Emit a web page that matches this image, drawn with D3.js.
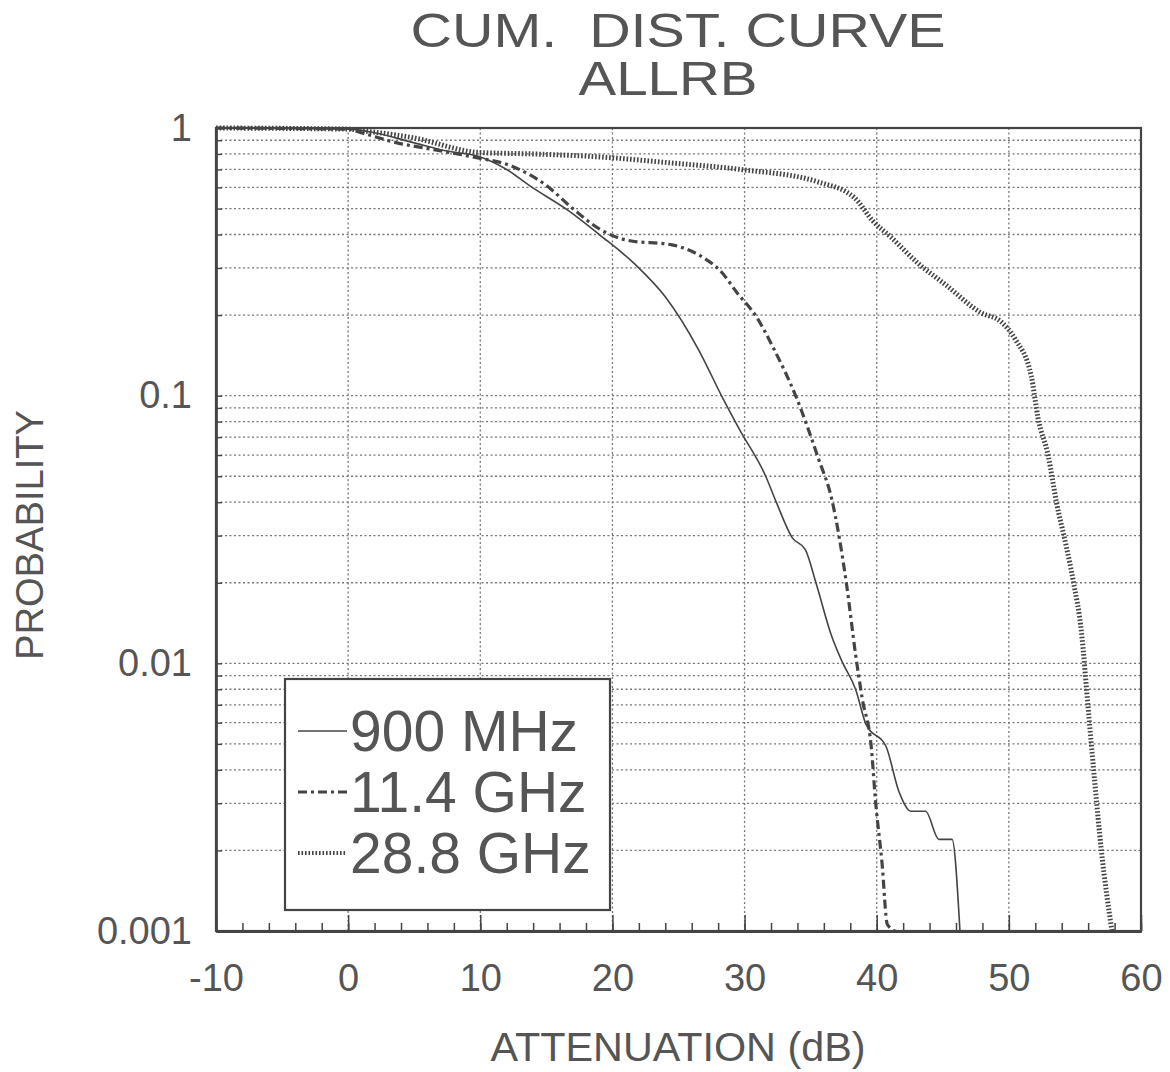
<!DOCTYPE html>
<html>
<head>
<meta charset="utf-8">
<script src="https://cdn.jsdelivr.net/npm/d3@7"></script>
<style>
  body { margin: 0; background: white; }
  text { font-family: "Liberation Sans", Arial, sans-serif; fill: #555; white-space: pre; }
</style>
</head>
<body>
<div id="chart"></div>
<script>
// values
var xTicks = [-10, 0, 10, 20, 30, 40, 50, 60]
var yTicks = [1, 0.1, 0.01, 0.001]
var yTickLabels = ["1", "0.1", "0.01", "0.001"]
var seriesNames = ["900 MHz", "11.4 GHz", "28.8 GHz"]

var x900 = [-10, 0, 2, 5, 7.5, 10, 12, 13.7, 16.7, 19, 21.7, 24, 26.5, 28.3, 29.6, 31.6, 32.4, 33.6, 34.6, 35.4, 36.6, 37.4, 38.4, 39.2, 40.7, 41.7, 42.6, 43.7, 44.7, 45.7, 46.3]
var y900 = [1, 0.99, 0.96, 0.88, 0.82, 0.78, 0.70, 0.61, 0.49, 0.40, 0.31, 0.234, 0.149, 0.099, 0.075, 0.05, 0.040, 0.0295, 0.0266, 0.020, 0.0126, 0.0101, 0.0080, 0.0059, 0.0049, 0.0033, 0.0028, 0.0028, 0.0022, 0.0022, 0.001]

var x114 = [-10, 0, 1, 3.7, 6.5, 9.4, 12.4, 15, 17, 19, 21.2, 24.5, 27.2, 28.1, 29.5, 30.9, 32.2, 33.9, 35.6, 36.6, 37.7, 38.4, 38.9, 39.6, 39.9, 40.4, 40.8, 41.4]
var y114 = [1, 0.99, 0.96, 0.88, 0.83, 0.78, 0.72, 0.61, 0.50, 0.42, 0.38, 0.366, 0.32, 0.295, 0.24, 0.197, 0.15, 0.099, 0.058, 0.041, 0.020, 0.0108, 0.0074, 0.0048, 0.0031, 0.0018, 0.00106, 0.001]

var x288 = [-10, 0, 1.6, 4.9, 9.9, 14, 19, 24.5, 29.7, 35.5, 38.3, 39.7, 41.1, 43.2, 45.2, 47.9, 49.4, 50.5, 51.7, 52.2, 53.0, 53.6, 54.3, 54.9, 55.5, 56.0, 56.5, 57.0, 57.8]
var y288 = [1, 0.99, 0.97, 0.92, 0.81, 0.80, 0.78, 0.74, 0.70, 0.63, 0.55, 0.45, 0.39, 0.31, 0.26, 0.204, 0.189, 0.162, 0.118, 0.083, 0.059, 0.040, 0.028, 0.020, 0.013, 0.0068, 0.0036, 0.0020, 0.001]

class frontend {
  constructor(parent){
    this.parent = parent
    this.width = 1170
    this.height = 1072
    this.left = 216
    this.right = 1141
    this.top = 128
    this.bottom = 931
    this.styles = [
      {w: 1.6, dash: null},
      {w: 3.2, dash: "9,4,3,4"},
      {w: 5, dash: "1.6,1.9"}
    ]
    this.draw()
  }
draw(){
  this.svg = this.parent.append("svg")
                  .attr("width", this.width)
                  .attr("height", this.height)
  this.x = d3.scaleLinear().domain([-10, 60]).range([this.left, this.right])
  this.y = d3.scaleLog().domain([0.001, 1]).range([this.bottom, this.top])

  // minor decade values for grid and ticks
  var minors = []
  for (var e = -3; e < 0; e++) {
    for (var m = 1; m < 10; m++) minors.push(m * Math.pow(10, e))
  }
  minors.push(1)

  var grid = this.svg.append("g")
  grid.selectAll(".hg").data(minors.filter(d => d > 0.001 && d < 1)).enter()
      .append("line")
      .attr("x1", this.left).attr("x2", this.right)
      .attr("y1", d => this.y(d)).attr("y2", d => this.y(d))
      .attr("stroke", "#777").attr("stroke-width", 1.3)
      .attr("stroke-dasharray", "2,2.5")
  grid.selectAll(".vg").data(xTicks.slice(1, -1)).enter()
      .append("line")
      .attr("y1", this.top).attr("y2", this.bottom)
      .attr("x1", d => this.x(d)).attr("x2", d => this.x(d))
      .attr("stroke", "#777").attr("stroke-width", 1.3)
      .attr("stroke-dasharray", "2,2.5")

  // frame
  this.svg.append("rect")
      .attr("x", this.left).attr("y", this.top)
      .attr("width", this.right - this.left).attr("height", this.bottom - this.top)
      .attr("fill", "none").attr("stroke", "#444").attr("stroke-width", 2.2)

  // bottom ticks (pointing up into the plot)
  var minorX = d3.range(-10, 61, 2)
  var gx1 = this.svg.append("g").attr("transform", "translate(0," + this.bottom + ")")
      .call(d3.axisBottom(this.x).tickValues(minorX).tickSizeInner(-8).tickSizeOuter(0).tickFormat(""))
  var gx2 = this.svg.append("g").attr("transform", "translate(0," + this.bottom + ")")
      .call(d3.axisBottom(this.x).tickValues(xTicks).tickSizeInner(-16).tickSizeOuter(0).tickPadding(33)
        .tickFormat(d => String(d)))
  ;[gx1, gx2].forEach(g => {
    g.select(".domain").attr("stroke", "#444").attr("stroke-width", 3)
    g.selectAll("line").attr("stroke", "#444").attr("stroke-width", 1.5)
  })
  gx2.selectAll("text").attr("font-size", 38).attr("fill", "#555")
      .style("font-family", "'Liberation Sans', Arial, sans-serif")

  // left ticks
  var gy1 = this.svg.append("g").attr("transform", "translate(" + this.left + ",0)")
      .call(d3.axisLeft(this.y).tickValues(minors).tickSizeInner(-6).tickSizeOuter(0).tickFormat(""))
  var gy2 = this.svg.append("g").attr("transform", "translate(" + this.left + ",0)")
      .call(d3.axisLeft(this.y).tickValues(yTicks).tickSize(0).tickPadding(24)
        .tickFormat((d, i) => yTickLabels[i]))
  ;[gy1, gy2].forEach(g => {
    g.select(".domain").attr("stroke", "#444").attr("stroke-width", 2.2)
    g.selectAll("line").attr("stroke", "#444").attr("stroke-width", 1.4)
  })
  gy2.selectAll("text").attr("font-size", 38).attr("fill", "#555")
      .style("font-family", "'Liberation Sans', Arial, sans-serif")

  // curves
  var data = [
    d3.zip(x900, y900),
    d3.zip(x114, y114),
    d3.zip(x288, y288)
  ]
  var line = d3.line().x(d => this.x(d[0])).y(d => this.y(d[1])).curve(d3.curveMonotoneX)
  data.forEach((pts, i) => {
    this.svg.append("path")
        .attr("d", line(pts))
        .attr("fill", "none")
        .attr("stroke", "#444")
        .attr("stroke-width", this.styles[i].w)
        .attr("stroke-dasharray", this.styles[i].dash)
  })

  // legend
  var lg = this.svg.append("g")
  lg.append("rect")
      .attr("x", 285).attr("y", 679).attr("width", 325).attr("height", 231)
      .attr("fill", "white").attr("stroke", "#444").attr("stroke-width", 2.2)
  seriesNames.forEach((name, i) => {
    var cy = 731 + i * 61
    lg.append("line")
        .attr("x1", 298).attr("x2", 347)
        .attr("y1", cy).attr("y2", cy)
        .attr("stroke", "#444")
        .attr("stroke-width", i == 2 ? 4 : this.styles[i].w)
        .attr("stroke-dasharray", this.styles[i].dash)
    lg.append("text")
        .attr("x", 350).attr("y", cy + 20)
        .attr("font-size", 57)
        .text(name)
  })

  // titles
  this.svg.append("text")
      .attr("x", 678).attr("y", 47).attr("text-anchor", "middle")
      .attr("font-size", 48).attr("textLength", 535).attr("lengthAdjust", "spacingAndGlyphs")
      .text("CUM.  DIST. CURVE")
  this.svg.append("text")
      .attr("x", 668).attr("y", 95).attr("text-anchor", "middle")
      .attr("font-size", 48).attr("textLength", 179).attr("lengthAdjust", "spacingAndGlyphs")
      .text("ALLRB")
  this.svg.append("text")
      .attr("x", 678).attr("y", 1061).attr("text-anchor", "middle")
      .attr("font-size", 40).attr("textLength", 375).attr("lengthAdjust", "spacingAndGlyphs")
      .text("ATTENUATION (dB)")
  this.svg.append("text")
      .attr("transform", "translate(43,535) rotate(-90)")
      .attr("text-anchor", "middle")
      .attr("font-size", 38).attr("textLength", 250).attr("lengthAdjust", "spacingAndGlyphs")
      .text("PROBABILITY")
  }//end of draw
};

var fe = new frontend(d3.select("body").select("#chart"))
</script>
</body>
</html>
